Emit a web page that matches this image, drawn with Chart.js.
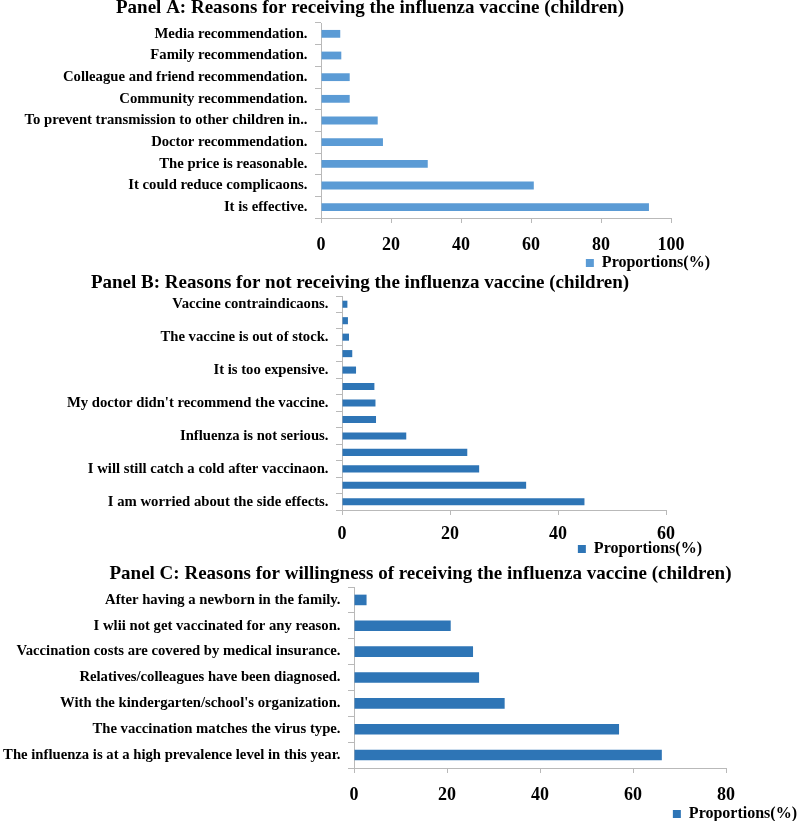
<!DOCTYPE html>
<html>
<head>
<meta charset="utf-8">
<script src="https://cdn.jsdelivr.net/npm/chart.js@4/dist/chart.umd.min.js"></script>
<style>
  html, body { margin: 0; padding: 0; background: #fff; overflow: hidden; }
  body { width: 800px; height: 821px; position: relative; }
  canvas { position: absolute; left: 0; }
</style>
</head>
<body>
<canvas id="panelA" width="800" height="284" style="top:-3px"></canvas>
<canvas id="panelB" width="800" height="295" style="top:272px"></canvas>
<canvas id="panelC" width="800" height="269" style="top:563px"></canvas>
<script>
// datos de los tres paneles (de arriba a abajo)
const catsA = ['Media recommendation.', 'Family recommendation.', 'Colleague and friend recommendation.',
  'Community recommendation.', 'To prevent transmission to other children in..', 'Doctor recommendation.',
  'The price is reasonable.', 'It could reduce complicaons.', 'It is effective.'];
const valsA = [5.5, 5.8, 8.2, 8.2, 16.2, 17.7, 30.5, 60.8, 93.7];
const ticksA = [0, 20, 40, 60, 80, 100];

const catsB = ['Vaccine contraindicaons.', '', 'The vaccine is out of stock.', '', 'It is too expensive.', '',
  "My doctor didn't recommend the vaccine.", '', 'Influenza is not serious.', '',
  'I will still catch a cold after vaccinaon.', '', 'I am worried about the side effects.'];
const valsB = [1.0, 1.1, 1.3, 1.9, 2.6, 6.0, 6.2, 6.3, 11.9, 23.2, 25.4, 34.1, 44.9];
const ticksB = [0, 20, 40, 60];

const catsC = ['After having a newborn in the family.', 'I wlii not get vaccinated for any reason.',
  'Vaccination costs are covered by medical insurance.', 'Relatives/colleagues have been diagnosed.',
  "With the kindergarten/school's organization.", 'The vaccination matches the virus type.',
  'The influenza is at a high prevalence level in this year.'];
const valsC = [2.7, 20.8, 25.6, 26.9, 32.4, 57.0, 66.2];
const ticksC = [0, 20, 40, 60, 80];

const serif = 'Liberation Serif, Times New Roman, serif';
const axisColor = '#b9b9b9';
Chart.defaults.color = '#000';
Chart.defaults.font.family = serif;
Chart.defaults.font.weight = 'bold';

// el título no va centrado sobre el lienzo: se desplaza un poco a la derecha
const titleShift = {
  id: 'titleShift',
  afterLayout(chart, args, opts) {
    const t = chart.titleBlock;
    if (t) { t.left += opts.dx; t.right += opts.dx; }
  }
};

function panel(id, p) {
  return new Chart(document.getElementById(id), {
    type: 'bar',
    data: {
      labels: p.cats,
      datasets: [{
        label: 'Proportions(%)',
        data: p.vals,
        backgroundColor: p.color,
        borderWidth: 0,
        categoryPercentage: 1,
        barPercentage: p.bar
      }]
    },
    plugins: [titleShift],
    options: {
      indexAxis: 'y',
      responsive: false,
      animation: false,
      layout: { padding: { left: 0, right: p.padR, top: 0, bottom: 0 } },
      plugins: {
        titleShift: { dx: p.titleDx },
        title: {
          display: true,
          text: p.title,
          font: { size: 19, weight: 'bold', lineHeight: 1.2 },
          padding: { top: 0, bottom: p.titleGap }
        },
        legend: {
          position: 'bottom',
          align: 'end',
          labels: { boxWidth: 8, boxHeight: 8, padding: p.legPad, font: { size: 16, weight: 'bold' } }
        },
        tooltip: { enabled: false }
      },
      scales: {
        x: {
          min: p.ticks[0],
          max: p.ticks[p.ticks.length - 1],
          afterBuildTicks: s => { s.ticks = p.ticks.map(v => ({ value: v })); },
          afterFit: s => { s.height = 5 + p.tickPad + p.labH; },
          grid: { drawOnChartArea: false, tickLength: 5, color: axisColor },
          border: { color: axisColor },
          ticks: { padding: p.tickPad, font: { size: 18, weight: 'bold', lineHeight: 1 } }
        },
        y: {
          afterFit: s => { s.width = p.yWidth; },
          grid: { drawOnChartArea: false, tickLength: 6, color: axisColor },
          border: { color: axisColor },
          ticks: { autoSkip: false, padding: 7.5, font: { size: 14.7, weight: 'bold' } }
        },
        // eje vacío a la derecha para dejar sitio a la leyenda
        r: {
          type: 'linear',
          position: 'right',
          ticks: { display: false },
          grid: { display: false },
          border: { display: false },
          afterFit: s => { s.width = p.rightGap; }
        }
      }
    }
  });
}

panel('panelA', {
  title: 'Panel A: Reasons for receiving the influenza vaccine (children)',
  cats: catsA, vals: valsA, ticks: ticksA, color: '#5b9bd5', bar: 0.36,
  padR: 89, yWidth: 321, rightGap: 40, titleDx: 14.5, titleGap: 3.2,
  tickPad: 13, labH: 18, legPad: 1
});
panel('panelB', {
  title: 'Panel B: Reasons for not receiving the influenza vaccine (children)',
  cats: catsB, vals: valsB, ticks: ticksB, color: '#2e75b6', bar: 0.43,
  padR: 98, yWidth: 342, rightGap: 36, titleDx: 9, titleGap: 1.2,
  tickPad: 10, labH: 16, legPad: 0
});
panel('panelC', {
  title: 'Panel C: Reasons for willingness of receiving the influenza vaccine (children)',
  cats: catsC, vals: valsC, ticks: ticksC, color: '#2e75b6', bar: 0.41,
  padR: 1, yWidth: 354, rightGap: 73, titleDx: 21, titleGap: 1.2,
  tickPad: 13, labH: 18, legPad: 2
});
</script>
</body>
</html>
